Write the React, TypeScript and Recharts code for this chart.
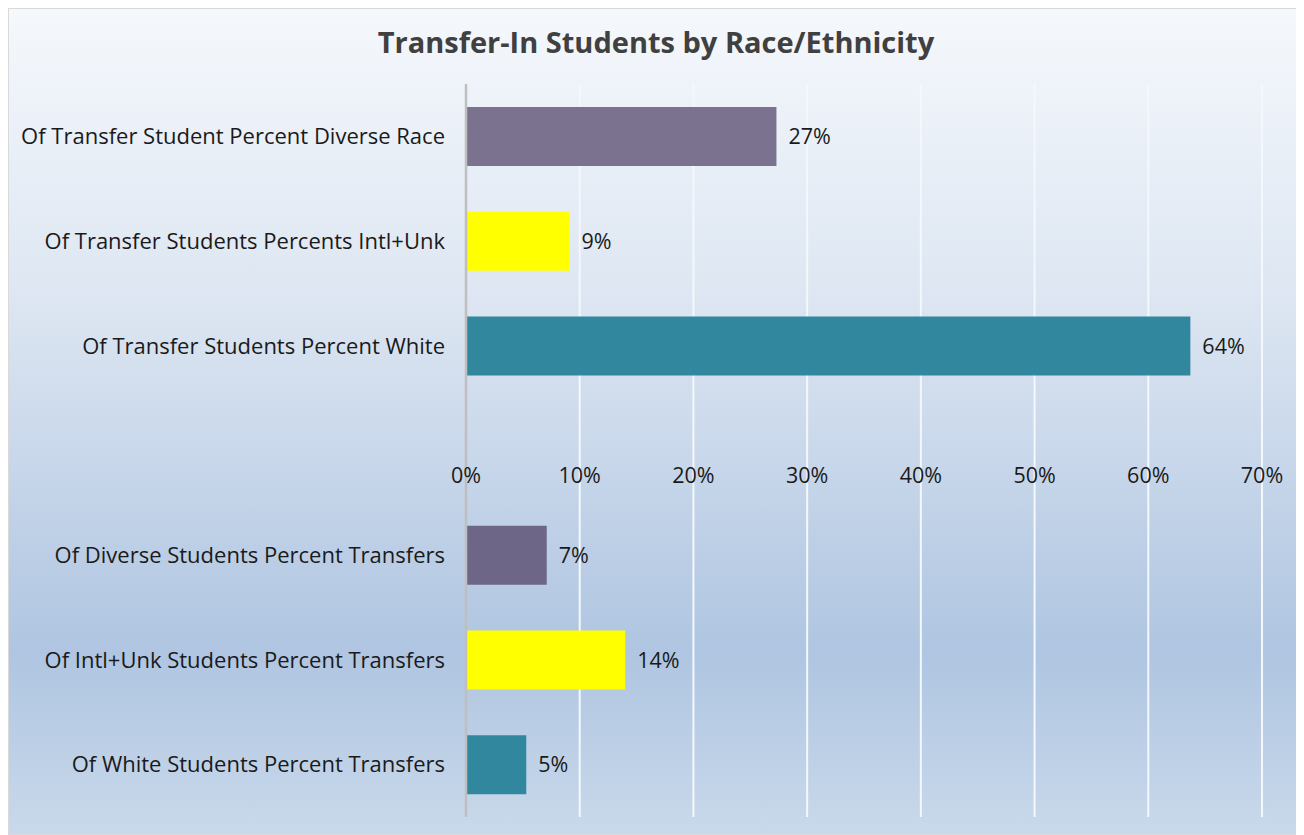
import React from 'react';
import { BarChart, Bar, XAxis, YAxis, CartesianGrid, Cell, LabelList } from 'recharts';

const categories = [
  'Of Transfer Student Percent Diverse Race',
  'Of Transfer Students Percents Intl+Unk',
  'Of Transfer Students Percent White',
  '',
  'Of Diverse Students Percent Transfers',
  'Of Intl+Unk Students Percent Transfers',
  'Of White Students Percent Transfers',
];
const values: (number | null)[] = [0.273, 0.091, 0.637, null, 0.071, 0.14, 0.053];
const barColors = ['#7b7290', '#ffff00', '#31879e', '#ffffff', '#6d6687', '#ffff00', '#31879e'];
const xTicks = [0, 0.1, 0.2, 0.3, 0.4, 0.5, 0.6, 0.7];

const data = categories.map((name, i) => ({ name, value: values[i] }));

const W = 1296;
const H = 827;
const FONT = '"Open Sans", "Noto Sans", sans-serif';

const pct = (v: number) => `${Math.round(v * 100)}%`;

// x tick labels sit in the empty middle row, not under the plot
const MiddleTick = (props: any) => {
  const { x, payload } = props;
  return (
    <text x={x} y={465} textAnchor="middle" dominantBaseline="central" fontSize={21.5} fill="#1a1a1a" fontFamily={FONT}>
      {pct(payload.value)}
    </text>
  );
};

const App: React.FC = () => {
  return (
    <div
      style={{
        position: 'relative',
        width: W,
        height: H,
        boxSizing: 'border-box',
        border: '1px solid #d9d9d9',
        background: 'linear-gradient(to bottom, #f5f8fc 0%, #dde6f2 35%, #afc5e1 78%, #c9d9eb 100%)',
        fontFamily: FONT,
      }}
    >
      <div
        style={{
          position: 'absolute',
          top: 13,
          left: 0,
          width: '100%',
          textAlign: 'center',
          fontSize: 29,
          fontWeight: 700,
          color: '#404040',
        }}
      >
        Transfer-In Students by Race/Ethnicity
      </div>
      <BarChart
        width={W - 2}
        height={H - 2}
        data={data}
        layout="vertical"
        margin={{ top: 75, right: 41, bottom: 16, left: 0 }}
        barSize={59}
        style={{ position: 'absolute', top: 0, left: 0 }}
      >
        <CartesianGrid horizontal={false} stroke="#f4f7fb" strokeWidth={2} />
        <XAxis
          type="number"
          domain={[0, 0.7]}
          ticks={xTicks}
          axisLine={false}
          tickLine={false}
          height={1}
          tick={<MiddleTick />}
        />
        <YAxis
          type="category"
          dataKey="name"
          width={457}
          axisLine={{ stroke: '#bfbfbf', strokeWidth: 2.5 }}
          tickLine={false}
          tickSize={0}
          tickMargin={21}
          tick={{ fontSize: 22, fill: '#1a1a1a', fontFamily: FONT }}
          interval={0}
        />
        <Bar dataKey="value" isAnimationActive={false}>
          {data.map((d, i) => (
            <Cell key={d.name + i} fill={barColors[i]} />
          ))}
          <LabelList
            dataKey="value"
            position="right"
            offset={12}
            formatter={(v: any) => (v == null ? '' : pct(v))}
            style={{ fontSize: 21.5, fill: '#1a1a1a', fontFamily: FONT }}
          />
        </Bar>
      </BarChart>
    </div>
  );
};

export default App;
